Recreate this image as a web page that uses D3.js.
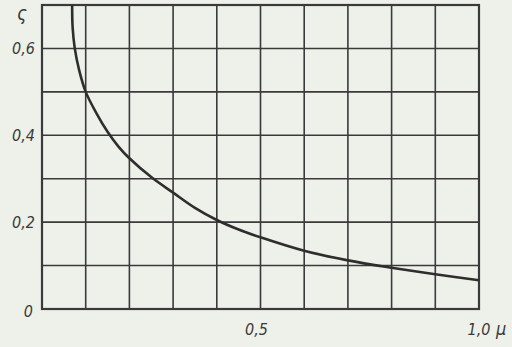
<!DOCTYPE html>
<html>
<head>
<meta charset="utf-8">
<script src="https://cdn.jsdelivr.net/npm/d3@7"></script>
<style>
  html, body { margin: 0; padding: 0; background: #eef0ea; }
  svg { display: block; }
  .lbl { font-family: "Liberation Sans Narrow", "DejaVu Sans Condensed", sans-serif; font-style: italic; fill: #3a3a3a; }
</style>
</head>
<body>
<div id="container"></div>
<script>
// curve: mu (x) against sigma (y)
const muValues    = [0.069, 0.070, 0.075, 0.085, 0.100, 0.125, 0.150, 0.175, 0.200, 0.252, 0.300, 0.350, 0.400, 0.450, 0.500, 0.600, 0.700, 0.800, 0.900, 1.000];
const sigmaValues = [0.700, 0.650, 0.600, 0.550, 0.500, 0.450, 0.408, 0.374, 0.347, 0.302, 0.268, 0.233, 0.205, 0.183, 0.165, 0.134, 0.112, 0.095, 0.080, 0.066];

const xGrid = d3.range(0, 11).map(i => i / 10);
const yGrid = d3.range(0, 8).map(i => i / 10);
const yTickLabels = [
  { v: 0.6, t: "0,6" },
  { v: 0.4, t: "0,4" },
  { v: 0.2, t: "0,2" },
  { v: 0.0, t: "0" }
];
const xTickLabels = [
  { v: 0.5, t: "0,5" },
  { v: 1.0, t: "1,0" }
];

const width = 512, height = 347;
const ink = "#3a3a3a";

const svg = d3.select("#container").append("svg")
  .attr("width", width)
  .attr("height", height);

const x = d3.scaleLinear().domain([0, 1]).range([42, 479]);
const y = d3.scaleLinear().domain([0, 0.7]).range([309, 5]);

// grid
svg.append("g").selectAll("line").data(xGrid).enter().append("line")
  .attr("x1", d => x(d)).attr("x2", d => x(d))
  .attr("y1", y(0.7)).attr("y2", y(0))
  .attr("stroke", ink).attr("stroke-width", 1.6);

svg.append("g").selectAll("line").data(yGrid).enter().append("line")
  .attr("x1", x(0)).attr("x2", x(1))
  .attr("y1", d => y(d)).attr("y2", d => y(d))
  .attr("stroke", ink).attr("stroke-width", 1.6);

// frame
svg.append("rect")
  .attr("x", x(0)).attr("y", y(0.7))
  .attr("width", x(1) - x(0)).attr("height", y(0) - y(0.7))
  .attr("fill", "none").attr("stroke", ink).attr("stroke-width", 2.2);

// curve
const pts = muValues.map((m, i) => [m, sigmaValues[i]]);
svg.append("path")
  .datum(pts)
  .attr("fill", "none")
  .attr("stroke", "#2e2e2e")
  .attr("stroke-width", 2.6)
  .attr("d", d3.line().x(d => x(d[0])).y(d => y(d[1])).curve(d3.curveCatmullRom.alpha(0.5)));

// labels
svg.append("g").selectAll("text").data(yTickLabels).enter().append("text")
  .attr("class", "lbl")
  .attr("x", d => d.v === 0 ? 33 : 35)
  .attr("y", d => y(d.v) + (d.v === 0 ? 8 : 6))
  .attr("text-anchor", "end")
  .attr("font-size", 16)
  .text(d => d.t);

svg.append("g").selectAll("text").data(xTickLabels).enter().append("text")
  .attr("class", "lbl")
  .attr("x", d => d.v === 1 ? x(d.v) : x(d.v) - 4)
  .attr("y", 335)
  .attr("text-anchor", "middle")
  .attr("font-size", 16)
  .text(d => d.t);

svg.append("text").attr("class", "lbl")
  .attr("x", 496).attr("y", 335)
  .attr("font-size", 18)
  .text("\u03bc");

svg.append("text").attr("class", "lbl")
  .attr("x", 22).attr("y", 20)
  .attr("text-anchor", "middle")
  .attr("font-size", 19)
  .text("\u03c2");
</script>
</body>
</html>
